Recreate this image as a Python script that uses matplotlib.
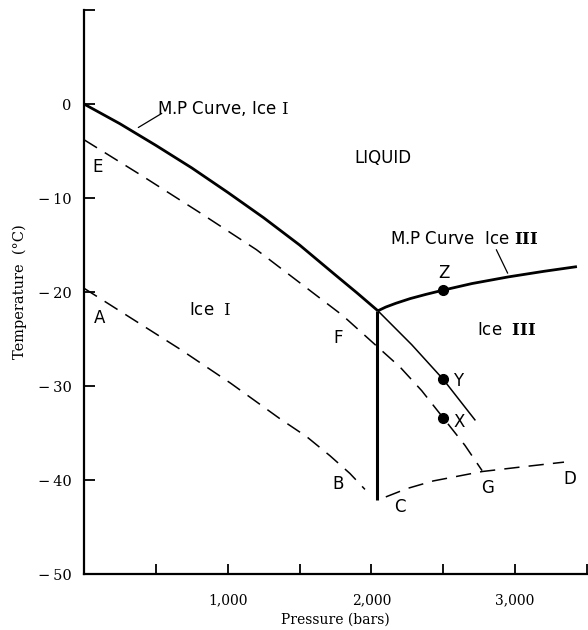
import matplotlib
matplotlib.use("Agg")
from matplotlib import pyplot as plt

# curves: pressure (bars), temperature (C)
mp_ice1_p = [0, 250, 500, 750, 1000, 1250, 1500, 1750, 1900, 2045]
mp_ice1_t = [0, -2.1, -4.4, -6.8, -9.4, -12.1, -15.0, -18.2, -20.1, -22.0]

mp_ice3_p = [2045, 2100, 2170, 2270, 2380, 2500, 2700, 2950, 3200, 3430]
mp_ice3_t = [-22.0, -21.6, -21.2, -20.7, -20.25, -19.8, -19.1, -18.4, -17.8, -17.3]

ice1_ice3_p = [2040, 2040]
ice1_ice3_t = [-22.0, -42.1]

ext_p = [2045, 2280, 2500, 2720]
ext_t = [-22.0, -25.6, -29.3, -33.6]

efg_p = [0, 400, 800, 1200, 1500, 1800, 2040, 2200, 2350, 2500, 2650, 2770]
efg_t = [-3.8, -7.6, -11.5, -15.5, -19.0, -22.5, -25.8, -28.0, -30.5, -33.4, -36.3, -39.0]

ab_p = [0, 670, 1020, 1365, 1550, 1710, 1850, 1955]
ab_t = [-19.6, -26.1, -29.7, -33.5, -35.4, -37.4, -39.3, -41.0]

cd_p = [2100, 2250, 2430, 2600, 2770, 3050, 3340]
cd_t = [-41.8, -40.9, -40.1, -39.6, -39.1, -38.6, -38.1]

pts_p = [2500, 2500, 2500]
pts_t = [-19.8, -29.3, -33.4]

x_ticks = [500, 1000, 1500, 2000, 2500, 3000, 3500]
x_labels = ["", "1,000", "", "2,000", "", "3,000", ""]
y_ticks = [-50, -40, -30, -20, -10, 0, 10]
y_labels = ["\u2212\u200950", "\u2212\u200940", "\u2212\u200930", "\u2212\u200920", "\u2212\u200910", "0", ""]

plt.rcParams["mathtext.fontset"] = "dejavuserif"

fig = plt.figure(figsize=(5.88, 6.3), dpi=100)
ax = fig.add_axes([84/588, 56/630, 503/588, 564/630])

ax.plot(mp_ice1_p, mp_ice1_t, color="black", lw=2.0, solid_capstyle="butt")
ax.plot(mp_ice3_p, mp_ice3_t, color="black", lw=2.0, solid_capstyle="butt")
ax.plot(ice1_ice3_p, ice1_ice3_t, color="black", lw=2.2, solid_capstyle="butt")
ax.plot(ext_p, ext_t, color="black", lw=1.1)
ax.plot(efg_p, efg_t, color="black", lw=1.1, dashes=(10, 6))
ax.plot(ab_p, ab_t, color="black", lw=1.1, dashes=(10, 6))
ax.plot(cd_p, cd_t, color="black", lw=1.1, dashes=(10, 6))
ax.plot(pts_p, pts_t, "o", color="black", ms=7)

# leader lines
ax.annotate("", xy=(378, -2.5), xytext=(541, -1.0),
            arrowprops=dict(arrowstyle="-", color="black", lw=0.9, shrinkA=0, shrinkB=0))
ax.annotate("", xy=(2948, -18.0), xytext=(2869, -15.5),
            arrowprops=dict(arrowstyle="-", color="black", lw=0.9, shrinkA=0, shrinkB=0))

sans = "DejaVu Sans"
fs = 12
ax.text(508, -0.45, r"M.P Curve, Ice $\mathrm{I}$", fontsize=fs, family=sans, va="center", ha="left")
ax.text(2082, -5.7, "LIQUID", fontsize=fs, family=sans, va="center", ha="center")
ax.text(2646, -14.4, r"M.P Curve  Ice $\mathbf{III}$", fontsize=fs, family=sans, va="center", ha="center")
ax.text(877, -21.9, r"Ice  $\mathrm{I}$", fontsize=fs, family=sans, va="center", ha="center")
ax.text(2939, -24.0, r"Ice  $\mathbf{III}$", fontsize=fs, family=sans, va="center", ha="center")

letters = ["E", "A", "F", "B", "C", "G", "D", "Z", "Y", "X"]
letters_p = [95, 107, 1771, 1771, 2196, 2809, 3380, 2502, 2604, 2611]
letters_t = [-6.7, -22.8, -24.9, -40.4, -42.9, -40.8, -39.9, -18.0, -29.5, -33.8]
for s, p, t in zip(letters, letters_p, letters_t):
    ax.text(p, t, s, fontsize=fs, family=sans, va="center", ha="center")

ax.set_xlim(0, 3500)
ax.set_ylim(-50, 10)
ax.spines["top"].set_visible(False)
ax.spines["right"].set_visible(False)
ax.spines["left"].set_linewidth(1.6)
ax.spines["bottom"].set_linewidth(1.6)

ax.set_xticks(x_ticks)
ax.set_xticklabels(x_labels, family="DejaVu Serif", fontsize=10)
ax.set_yticks(y_ticks)
ax.set_yticklabels(y_labels, family="DejaVu Serif", fontsize=10.5)
ax.tick_params(axis="x", direction="in", length=7, width=1.3, pad=14)
ax.tick_params(axis="y", direction="in", length=8, width=1.3, pad=9)

ax.set_xlabel("Pressure (bars)", family="DejaVu Serif", fontsize=10, labelpad=4)
ax.set_ylabel("Temperature  (\u00b0C)", family="DejaVu Serif", fontsize=10.5, labelpad=8)

fig.savefig("out.png", dpi=100)
